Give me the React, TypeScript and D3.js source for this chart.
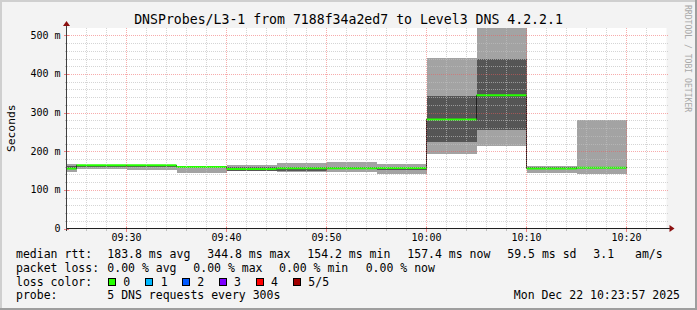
import React from 'react';
import * as d3 from 'd3';

// ---------- data ----------
const day = '2025-12-22';
const segmentEnds = ['09:25', '09:30', '09:35', '09:40', '09:45', '09:50', '09:55', '10:00', '10:05', '10:10', '10:15', '10:20'];
const ping1 = [146, 154, 151, 144, 148, 147, 145, 142, 194, 214, 144, 142];
const ping2 = [153, 158, 160, 158, 150, 149, 153, 152, 224, 254, 153, 156];
const medianRtt = [155.2, 163.7, 163.5, 159.5, 154.2, 156.0, 156.0, 156.5, 282.0, 344.8, 155.2, 157.4];
const ping4 = [162, 164.5, 164.5, 161, 158, 158, 159, 160, 343, 439, 159, 159];
const ping5 = [166, 165, 165, 162, 163.7, 170, 172, 168, 441, 519, 162, 281];
const lossCount = [0, 0, 0, 0, 0, 0, 0, 0, 0, 0, 0, 0];

const yTicks = [0, 100, 200, 300, 400, 500];
const yTickLabels = ['0', '100 m', '200 m', '300 m', '400 m', '500 m'];
const xMajorTicks = ['09:30', '09:40', '09:50', '10:00', '10:10', '10:20'];

const titleText = 'DNSProbes/L3-1 from 7188f34a2ed7 to Level3 DNS 4.2.2.1';
const yAxisTitle = 'Seconds';
const medianStats = ['183.8 ms avg', '344.8 ms max', '154.2 ms min', '157.4 ms now', '59.5 ms sd', '3.1', 'am/s'];
const lossStats = ['0.00 % avg', '0.00 % max', '0.00 % min', '0.00 % now'];
const lossColors = ['#26ff00', '#00b8ff', '#0059ff', '#7e00ff', '#ff0000', '#a10000'];
const lossLabels = ['0', '1', '2', '3', '4', '5/5'];
const probeText = '5 DNS requests every 300s';
const dateText = 'Mon Dec 22 10:23:57 2025';
const watermark = 'RRDTOOL / TOBI OETIKER';

// ---------- layout ----------
const W = 697;
const H = 310;
const PL = 66.5;
const PR = 666.5;
const PT = 28;
const PB = 228.5;
const FONT = "'DejaVu Sans Mono', monospace";

const t = (s: string) => new Date(`${day}T${s}:00`);

export default function App() {
  const x = d3.scaleTime().domain([t('09:24'), t('10:24')]).range([PL, PR]);
  const y = d3.scaleLinear().domain([0, 519]).range([PB, PT]);

  const segs = segmentEnds.map((e, i) => {
    const end = t(e);
    const startRaw = d3.timeMinute.offset(end, -5);
    const start = startRaw < x.domain()[0] ? x.domain()[0] : startRaw;
    return { start, end, p1: ping1[i], p2: ping2[i], med: medianRtt[i], p4: ping4[i], p5: ping5[i], loss: lossCount[i] };
  });

  const medPts: [Date, number][] = segs.map((s) => [s.start, s.med]);
  medPts.push([segs[segs.length - 1].end, segs[segs.length - 1].med]);
  const medLine = d3
    .line<[Date, number]>()
    .x((d) => x(d[0]))
    .y((d) => y(d[1]))
    .curve(d3.curveStepAfter)(medPts);

  // grid
  const minorY = d3.range(20, 501, 20).filter((v) => v % 100 !== 0);
  const minorX = d3.timeMinute
    .every(2)!
    .range(t('09:26'), t('10:24'))
    .filter((d) => d.getMinutes() % 10 !== 0);
  const majorX = xMajorTicks.map(t);

  const minorColor = 'rgba(190,190,190,0.65)';
  const majorColor = 'rgba(240,90,90,0.5)';

  const col = [16, 107.3, 207.3, 307.3, 407.3, 507.3, 593.3, 635];
  const lossCol = [16, 107.3, 193.3, 279, 365.7];
  const boxX = [108.3, 145.7, 182.3, 219, 256, 293.3];
  const lineY = [258, 271.5, 285.5, 299];

  return (
    <svg width={W} height={H} style={{ position: 'absolute', left: 0, top: 0 }} fontFamily={FONT}>
      <rect x={0} y={0} width={W} height={H} fill="#f3f3f3" />
      {/* frame */}
      <rect x={0} y={0} width={W} height={2} fill="#cfcfcf" />
      <rect x={0} y={0} width={2} height={H} fill="#cfcfcf" />
      <rect x={0} y={H - 2} width={W} height={2} fill="#9e9e9e" />
      <rect x={W - 2} y={0} width={2} height={H} fill="#9e9e9e" />

      {/* plot background */}
      <rect x={PL} y={PT} width={PR - PL} height={PB - PT} fill="#ffffff" />

      {/* smoke */}
      <g shapeRendering="crispEdges">
        {segs.map((s, i) => (
          <rect key={'l' + i} x={x(s.start)} y={y(s.p5)} width={x(s.end) - x(s.start)} height={y(s.p1) - y(s.p5)} fill="#a3a3a3" />
        ))}
        {segs.map((s, i) => (
          <rect key={'d' + i} x={x(s.start)} y={y(s.p4)} width={x(s.end) - x(s.start)} height={y(s.p2) - y(s.p4)} fill="#555555" />
        ))}
      </g>

      {/* median dark line */}
      <path d={medLine || ''} fill="none" stroke="#202020" strokeWidth={1} shapeRendering="crispEdges" />
      {/* median loss-colored */}
      {segs.map((s, i) => (
        <line key={'m' + i} x1={x(s.start)} x2={x(s.end)} y1={y(s.med)} y2={y(s.med)} stroke={lossColors[s.loss]} strokeWidth={2} />
      ))}

      {/* grid */}
      <g strokeDasharray="1,1" strokeWidth={1} shapeRendering="crispEdges">
        {minorY.map((v) => (
          <line key={'gy' + v} x1={PL} x2={PR + 1} y1={Math.round(y(v)) + 0.5} y2={Math.round(y(v)) + 0.5} stroke={minorColor} />
        ))}
        {minorX.map((d, i) => (
          <line key={'gx' + i} x1={x(d)} x2={x(d)} y1={PT} y2={PB} stroke={minorColor} />
        ))}
        {yTicks.slice(1).map((v) => (
          <line key={'My' + v} x1={PL} x2={PR + 1} y1={Math.round(y(v)) + 0.5} y2={Math.round(y(v)) + 0.5} stroke={majorColor} />
        ))}
        {majorX.map((d, i) => (
          <line key={'Mx' + i} x1={x(d)} x2={x(d)} y1={PT} y2={PB} stroke={majorColor} />
        ))}
      </g>

      {/* ticks */}
      <g shapeRendering="crispEdges">
        {minorX.map((d, i) => (
          <line key={'tx' + i} x1={x(d)} x2={x(d)} y1={PB} y2={PB + 2} stroke="#c0c0c0" />
        ))}
        {majorX.map((d, i) => (
          <line key={'Tx' + i} x1={x(d)} x2={x(d)} y1={PB - 2} y2={PB + 3} stroke="#f08080" />
        ))}
        {minorY.map((v) => (
          <line key={'ty' + v} x1={PL - 2} x2={PL} y1={Math.round(y(v)) + 0.5} y2={Math.round(y(v)) + 0.5} stroke="#c0c0c0" />
        ))}
        {yTicks.map((v) => (
          <line key={'Ty' + v} x1={PL - 3} x2={PL + 2} y1={Math.round(y(v)) + 0.5} y2={Math.round(y(v)) + 0.5} stroke="#f08080" />
        ))}
      </g>

      {/* axes */}
      <g shapeRendering="crispEdges">
        <line x1={PL - 1} x2={PR + 4} y1={PB} y2={PB} stroke="#202020" />
        <line x1={PL} x2={PL} y1={PB + 2} y2={PT - 3} stroke="#404040" strokeWidth={1.5} />
      </g>
      <path d={`M${PR + 3},${PB - 3.5} L${PR + 8},${PB} L${PR + 3},${PB + 3.5} Z`} fill="#8b1010" />
      <path d={`M${PL - 3.5},${PT - 2} L${PL},${PT - 7} L${PL + 3.5},${PT - 2} Z`} fill="#8b1010" />

      {/* tick labels */}
      <g fontSize={10} fill="#000">
        {yTicks.map((v, i) => (
          <text key={'yl' + v} x={60.5} y={y(v) + 3.5} textAnchor="end">
            {yTickLabels[i]}
          </text>
        ))}
        {majorX.map((d, i) => (
          <text key={'xl' + i} x={x(d)} y={240.5} textAnchor="middle">
            {xMajorTicks[i]}
          </text>
        ))}
      </g>

      {/* title */}
      <text x={348.5} y={24} textAnchor="middle" fontSize={13.2} fill="#000">
        {titleText}
      </text>
      <text transform={`translate(15,${(PT + PB) / 2}) rotate(-90)`} textAnchor="middle" fontSize={11.3} fill="#000">
        {yAxisTitle}
      </text>
      <text transform={`translate(685,5) rotate(90)`} fontSize={8.1} fill="#a8a8a8">
        {watermark}
      </text>

      {/* legend */}
      <g fontSize={11.5} fill="#000" style={{ whiteSpace: 'pre' }}>
        <text x={col[0]} y={lineY[0]}>median rtt:</text>
        {medianStats.map((s, i) => (
          <text key={'ms' + i} x={col[i + 1]} y={lineY[0]}>
            {s}
          </text>
        ))}
        <text x={lossCol[0]} y={lineY[1]}>packet loss:</text>
        {lossStats.map((s, i) => (
          <text key={'ls' + i} x={lossCol[i + 1]} y={lineY[1]}>
            {s}
          </text>
        ))}
        <text x={col[0]} y={lineY[2]}>loss color:</text>
        {lossColors.map((c, i) => (
          <g key={'lc' + i}>
            <rect x={boxX[i]} y={lineY[2] - 7.5} width={7} height={7} fill={c} stroke="#000" strokeWidth={1} shapeRendering="crispEdges" />
            <text x={boxX[i] + 15} y={lineY[2]}>
              {lossLabels[i]}
            </text>
          </g>
        ))}
        <text x={col[0]} y={lineY[3]}>probe:</text>
        <text x={col[1]} y={lineY[3]}>{probeText}</text>
        <text x={680} y={lineY[3]} textAnchor="end">
          {dateText}
        </text>
      </g>
    </svg>
  );
}
